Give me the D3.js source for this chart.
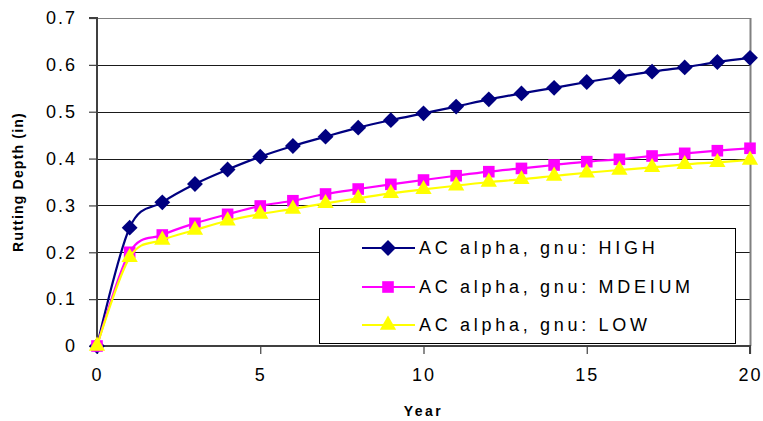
<!DOCTYPE html>
<html>
<head>
<meta charset="utf-8">
<script src="https://cdn.jsdelivr.net/npm/d3@7"></script>
<style>
  html, body { margin: 0; padding: 0; background: #fff; }
  svg { display: block; font-family: "Liberation Sans", Arial, sans-serif; }
</style>
</head>
<body>
<svg id="chart" width="763" height="421"></svg>
<script>
// ---- data ----
const years = [0,1,2,3,4,5,6,7,8,9,10,11,12,13,14,15,16,17,18,19,20];
const seriesNames = ["AC alpha, gnu: HIGH", "AC alpha, gnu: MDEIUM", "AC alpha, gnu: LOW"];
const highValues = [0, 0.2525, 0.3066, 0.3457, 0.3766, 0.404, 0.4268, 0.4467, 0.466, 0.482, 0.4965, 0.511, 0.5264, 0.539, 0.551, 0.5634, 0.5747, 0.5854, 0.5946, 0.606, 0.615];
const mediumValues = [0, 0.2, 0.2369, 0.2618, 0.281, 0.2988, 0.31, 0.3244, 0.335, 0.345, 0.3542, 0.3634, 0.372, 0.379, 0.3863, 0.3934, 0.3984, 0.4055, 0.4112, 0.4168, 0.422];
const lowValues = [0, 0.1893, 0.2262, 0.2475, 0.2674, 0.2817, 0.2925, 0.3045, 0.3152, 0.3258, 0.3344, 0.342, 0.35, 0.3557, 0.3628, 0.3698, 0.3756, 0.3813, 0.3877, 0.392, 0.397];
const yTicks = [0, 0.1, 0.2, 0.3, 0.4, 0.5, 0.6, 0.7];
const yTickLabels = ["0", "0.1", "0.2", "0.3", "0.4", "0.5", "0.6", "0.7"];
const xTicks = [0, 5, 10, 15, 20];
const xTickLabels = ["0", "5", "10", "15", "20"];
const xTitle = "Year";
const yTitle = "Rutting Depth (in)";

// ---- styles ----
const colors = ["#000080", "#FF00FF", "#FFFF00"];
const shapes = [d3.symbolDiamond2, d3.symbolSquare, d3.symbolTriangle];
const shapeSizes = [160, 135, 115];

const svg = d3.select("#chart");
const W = 763, H = 421;
const m = { left: 97, top: 18, right: 13, bottom: 75 };
const pw = W - m.left - m.right, ph = H - m.top - m.bottom;

const x = d3.scaleLinear().domain([0, 20]).range([m.left, m.left + pw]);
const y = d3.scaleLinear().domain([0, 0.7]).range([m.top + ph, m.top]);

// gridlines
svg.append("g").selectAll("line").data(yTicks.filter(d => d > 0)).join("line")
  .attr("x1", m.left).attr("x2", m.left + pw)
  .attr("y1", d => Math.round(y(d)) + 0.5).attr("y2", d => Math.round(y(d)) + 0.5)
  .attr("stroke", d => d === 0.7 ? "#808080" : "#1a1a1a").attr("stroke-width", 1);

// right border
svg.append("line")
  .attr("x1", m.left + pw + 0.5).attr("x2", m.left + pw + 0.5)
  .attr("y1", m.top).attr("y2", m.top + ph)
  .attr("stroke", "#808080").attr("stroke-width", 2);

// axes
const yAxis = d3.axisLeft(y).tickValues(yTicks).tickFormat((d, i) => yTickLabels[i]).tickSize(8).tickPadding(12);
const xAxis = d3.axisBottom(x).tickValues(xTicks).tickFormat((d, i) => xTickLabels[i]).tickSize(8).tickPadding(14);

const gy = svg.append("g").attr("transform", `translate(${m.left},0)`).call(yAxis);
const gx = svg.append("g").attr("transform", `translate(0,${m.top + ph})`).call(xAxis);
[gy, gx].forEach(g => {
  g.select(".domain").attr("stroke", "#404040").attr("stroke-width", 2);
  g.selectAll(".tick line").attr("stroke", "#404040").attr("stroke-width", 1.2);
  g.selectAll(".tick text").attr("fill", "#000").style("font-size", "18px").style("letter-spacing", "2px");
});
gy.select(".domain").attr("d", `M-8,${m.top}H0V${m.top + ph}`);
gx.select(".domain").attr("d", `M${m.left},0H${m.left + pw}V8`);

// titles
svg.append("text").attr("x", m.left + pw / 2).attr("y", 416)
  .attr("text-anchor", "middle").style("font-size", "14px").style("font-weight", "bold")
  .style("letter-spacing", "2.5px").text(xTitle);
svg.append("text").attr("transform", `translate(23,${m.top + ph / 2}) rotate(-90)`)
  .attr("text-anchor", "middle").style("font-size", "14px").style("font-weight", "bold")
  .style("letter-spacing", "1.2px").text(yTitle);

// series
const allSeries = [highValues, mediumValues, lowValues];
const line = d3.line().x((d, i) => x(years[i])).y(d => y(d)).curve(d3.curveCardinal.tension(0));
allSeries.forEach((vals, k) => {
  const g = svg.append("g");
  g.append("path").datum(vals).attr("d", line)
    .attr("fill", "none").attr("stroke", colors[k]).attr("stroke-width", 2.2);
  g.selectAll("path.mk").data(vals).join("path").attr("class", "mk")
    .attr("transform", (d, i) => `translate(${x(years[i])},${y(d)})`)
    .attr("d", d3.symbol().type(shapes[k]).size(shapeSizes[k]))
    .attr("fill", colors[k]);
});

// legend
const lg = svg.append("g");
lg.append("rect").attr("x", 319.5).attr("y", 228.5).attr("width", 416).attr("height", 115)
  .attr("fill", "#fff").attr("stroke", "#000").attr("stroke-width", 1);
const rowY = [248, 287, 325];
seriesNames.forEach((name, k) => {
  lg.append("line").attr("x1", 362).attr("x2", 415).attr("y1", rowY[k]).attr("y2", rowY[k])
    .attr("stroke", colors[k]).attr("stroke-width", 2.2);
  lg.append("path").attr("transform", `translate(388,${rowY[k]})`)
    .attr("d", d3.symbol().type(shapes[k]).size(shapeSizes[k])).attr("fill", colors[k]);
  lg.append("text").attr("x", 419).attr("y", rowY[k]).attr("dy", "0.36em")
    .style("font-size", "18px").style("letter-spacing", "3.7px").attr("fill", "#000").text(name);
});
</script>
</body>
</html>
